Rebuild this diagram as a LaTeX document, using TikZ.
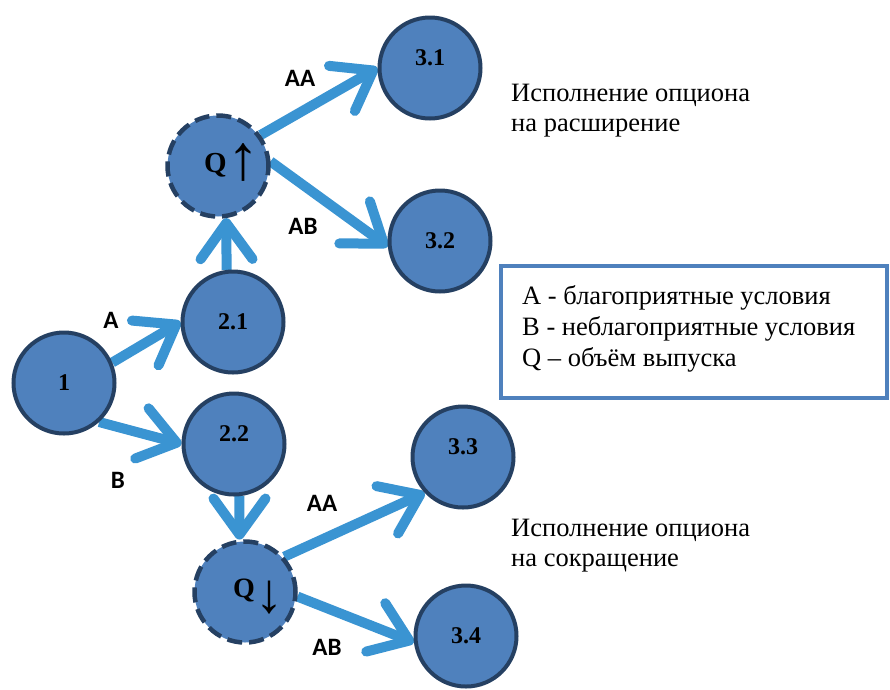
\documentclass[tikz,border=0pt]{standalone}
\usepackage{fontspec}
\setmainfont{Liberation Serif}
\newfontfamily\edgefont{Carlito}
\usetikzlibrary{arrows.meta,backgrounds}

\definecolor{nodefill}{RGB}{79,129,189}
\definecolor{nodeline}{RGB}{37,64,98}
\definecolor{flowblue}{RGB}{58,148,210}

\begin{document}
\begin{tikzpicture}[x=1pt,y=-1pt,
  state/.style={circle, minimum size=101pt, inner sep=0pt, fill=nodefill,
    draw=nodeline, line width=4pt},
  choice/.style={state, line width=4.5pt, dash pattern=on 15pt off 7pt},
  numtext/.style={font=\fontsize{24}{24}\selectfont\bfseries},
  flow/.style={draw=flowblue, line width=10pt,
    -{Straight Barb[length=36pt, width=52pt, round]}},
  edgelabel/.style={font=\edgefont\fontsize{25}{25}\selectfont\bfseries, inner sep=0pt},
  plain/.style={font=\fontsize{26.5}{26.5}\selectfont, inner sep=0pt, anchor=base west},
  qtext/.style={inner sep=0pt, anchor=base west},
]
\useasboundingbox (0,0) rectangle (890,689);

% decision tree nodes
\node[state, label={[numtext]center:1}] (n1) at (64,383) {};
\node[state, label={[numtext]center:2.1}] (n21) at (233,322) {};
\node[state, label={[numtext, yshift=10pt]center:2.2}] (n22) at (234,444) {};
\node[choice] (qup) at (218,166) {};
\node[qtext] (qupl) at (204,172)
  {\fontsize{29}{29}\selectfont\bfseries Q\fontsize{64}{64}\selectfont\kern1pt\raisebox{-7pt}{↑}};
\node[choice] (qdn) at (245,592) {};
\node[qtext] (qdnl) at (233,597)
  {\fontsize{28}{28}\selectfont\bfseries Q\fontsize{56}{56}\selectfont\kern1pt\raisebox{-15pt}{↓}};
\node[state, label={[numtext, yshift=10pt]center:3.1}] (n31) at (430,68) {};
\node[state, label={[numtext]center:3.2}] (n32) at (440,241) {};
\node[state, label={[numtext, yshift=10pt]center:3.3}] (n33) at (463,457) {};
\node[state, label={[numtext]center:3.4}] (n34) at (466,636) {};

% connectors, kept beneath the circles
\begin{scope}[on background layer]
  \draw[flow] (n1.23) -- (n21.180);
  \draw[flow] (n1.-48) -- (n22.180);
  \draw[flow] (n21.97.7) -- (qup.-81);
  \draw[flow] (qup.36) -- (n31.180);
  \draw[flow] (qup.5) -- (n32.186);
  \draw[flow] (n22.-84.5) -- (qdn.96.6);
  \draw[flow] (qdn.42) -- (n33.223);
  \draw[flow] (qdn.-5.5) -- (n34.187);
\end{scope}

% branch labels
\node[edgelabel] (la) at (111,320) {A};
\node[edgelabel] (lb) at (118,480) {B};
\node[edgelabel] (laa1) at (300,78) {AA};
\node[edgelabel] (lab1) at (303,226) {AB};
\node[edgelabel] (laa2) at (322,503) {AA};
\node[edgelabel] (lab2) at (327,647) {AB};

% option notes
\node[plain] (up1) at (511,101) {Исполнение опциона};
\node[plain] (up2) at (511,131) {на расширение};
\node[plain] (dn1) at (511,536) {Исполнение опциона};
\node[plain] (dn2) at (511,566) {на сокращение};

% legend
\node[draw=nodefill, line width=4pt, minimum width=386pt, minimum height=132pt,
  inner sep=0pt] (legend) at (694,332) {};
\node[plain] (lg1) at (522,304) {A - благоприятные условия};
\node[plain] (lg2) at (522,335) {B - неблагоприятные условия};
\node[plain] (lg3) at (522,366) {Q – объём выпуска};
\end{tikzpicture}
\end{document}
